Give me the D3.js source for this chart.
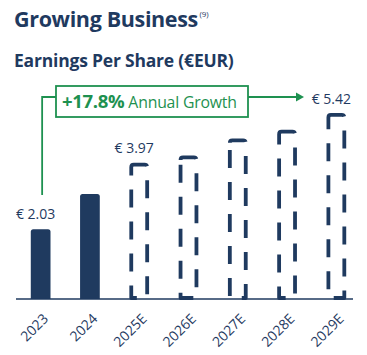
<!DOCTYPE html>
<html><head><meta charset="utf-8">
<script src="https://cdn.jsdelivr.net/npm/d3@7"></script>
<style>body{margin:0;background:#fff;}svg{display:block;font-family:"Open Sans",sans-serif;}</style>
</head><body>
<script>
const categories = ["2023","2024","2025E","2026E","2027E","2028E","2029E"];
const values = [2.03, 3.06, 3.97, 4.18, 4.68, 4.93, 5.42];
const estimated = [false,false,true,true,true,true,true];
const valueLabels = [{i:0,text:"€ 2.03"},{i:2,text:"€ 3.97"},{i:6,text:"€ 5.42"}];
const growthText = ["+17.8%"," Annual Growth"];

const W=367,H=355;
const navy="#1f3a5f", green="#1e9150";
const svg=d3.select("body").append("svg").attr("width",W).attr("height",H);

const x=d3.scaleBand().domain(categories).range([16,361]).paddingInner(0.6).paddingOuter(0.3);
const y=d3.scaleLinear().domain([0,5.42]).range([299,113]);
const bw=x.bandwidth();

// titles
const t=svg.append("text").attr("x",14).attr("y",27).attr("fill",navy);
t.append("tspan").attr("font-size",21.5).attr("font-weight",700).attr("letter-spacing",-0.35).text("Growing Business");
t.append("tspan").attr("font-size",8).attr("dx",1.5).attr("dy",-10).text("(9)");
svg.append("text").attr("x",14).attr("y",67).attr("fill",navy).attr("font-size",17.5).attr("font-weight",700).attr("letter-spacing",-0.2).text("Earnings Per Share (€EUR)");

// bars
categories.forEach((c,i)=>{
  const x0=x(c), y0=y(values[i]), y1=y(0), r=2.5;
  if(!estimated[i]){
    svg.append("path").attr("fill",navy)
      .attr("d",`M${x0},${y1}V${y0+r}Q${x0},${y0} ${x0+r},${y0}H${x0+bw-r}Q${x0+bw},${y0} ${x0+bw},${y0+r}V${y1}Z`);
  } else {
    const sw=3.8, a=x0+sw/2, b=x0+bw-sw/2, top=y0+sw/2, bot=y1-1;
    svg.append("path").attr("fill","none").attr("stroke",navy).attr("stroke-width",sw)
      .attr("stroke-dasharray","18,14").attr("stroke-linejoin","round")
      .attr("d",`M${a},${top+r}Q${a},${top} ${a+r},${top}H${b-r}Q${b},${top} ${b},${top+r}V${bot}H${a}V${top+r}`);
  }
});

// axis
svg.append("line").attr("x1",16).attr("x2",353).attr("y1",299).attr("y2",299).attr("stroke",navy).attr("stroke-width",1.5);
const ax=svg.append("g").attr("transform","translate(0,299)").call(d3.axisBottom(x).tickSize(0).tickPadding(0));
ax.select(".domain").remove();
ax.selectAll("text").attr("fill",navy).attr("font-size",14).attr("font-family","'Open Sans',sans-serif")
  .attr("text-anchor","end").attr("dy",0).attr("transform",`translate(${bw/2-4},18) rotate(-45)`).attr("dominant-baseline","middle").attr("y",0).attr("x",0);

// value labels
valueLabels.forEach(d=>{
  svg.append("text").attr("x",x(categories[d.i])+bw/2-5).attr("y",d.i===6?104:(d.i===0?219:153)).attr("text-anchor","middle")
    .attr("fill",navy).attr("font-size",14).text(d.text);
});

// growth annotation
const lx=x(categories[0])+bw/2+1.5, ly=97;
svg.append("path").attr("fill","none").attr("stroke",green).attr("stroke-width",1.8)
  .attr("d",`M${lx},195V${ly}H56M248,${ly}H297`);
svg.append("path").attr("fill",green).attr("d",`M296,${ly-4.5}L304,${ly}L296,${ly+4.5}Z`);
svg.append("rect").attr("x",56).attr("y",86).attr("width",192).attr("height",31).attr("fill","#fff").attr("stroke",green).attr("stroke-width",1.8);
const gt=svg.append("text").attr("x",62).attr("y",108).attr("fill",green);
gt.append("tspan").attr("font-weight",700).attr("font-size",18.5).attr("letter-spacing",-0.3).text(growthText[0]);
gt.append("tspan").attr("font-size",15.8).attr("letter-spacing",-0.2).text(growthText[1]);
</script>
</body></html>
